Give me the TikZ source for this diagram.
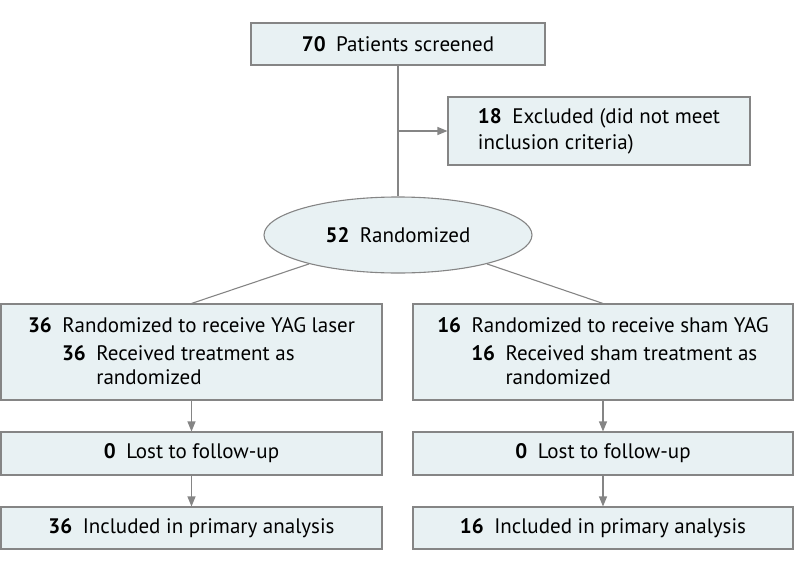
\documentclass[tikz,border=0pt]{standalone}
\usepackage{fontspec}
\setmainfont{PT Sans}
\usetikzlibrary{shapes.geometric,arrows.meta}
\definecolor{boxfill}{HTML}{E8F1F3}
\definecolor{boxline}{HTML}{858585}
\tikzset{
  txt/.style={font=\fontsize{21}{24}\selectfont},
  base/.style={draw=boxline, fill=boxfill, line width=1.1pt, inner sep=0pt, txt},
  box/.style={base, rectangle},
  oval/.style={base, ellipse},
  conn/.style={draw=boxline, line width=1.1pt},
  arr/.style={conn, -{Triangle[length=10pt,width=8pt]}},
}
\newcommand{\nb}[1]{\textbf{#1}\hspace{0.5em}}
\begin{document}
\begin{tikzpicture}[x=1pt,y=-1pt]
\useasboundingbox (0,0) rectangle (794,570);
\node[box, minimum width=294, minimum height=42] (T) at (398,44) {\nb{70}Patients screened};
\node[box, minimum width=302, minimum height=68, align=left, font=\fontsize{21}{26}\selectfont] (X) at (599,131) {\nb{18}Excluded (did not meet\\inclusion criteria)};
\node[oval, minimum width=268, minimum height=76] (E) at (398,235) {\nb{52}Randomized};
\node[box, minimum width=381, minimum height=96] (L1) at (191.5,352) {};
\node[box, minimum width=380, minimum height=96] (R1) at (603,352) {};
\node[txt, align=left, inner sep=0pt] (L1t) at ([yshift=1pt]L1.center) {\nb{36}Randomized to receive YAG laser\\[4pt]\hspace*{34pt}\nb{36}Received treatment as\\\hspace*{34pt}\phantom{\nb{36}}randomized};
\node[txt, align=left, inner sep=0pt] (R1t) at ([yshift=1pt]R1.center) {\nb{16}Randomized to receive sham YAG\\[4pt]\hspace*{34pt}\nb{16}Received sham treatment as\\\hspace*{34pt}\phantom{\nb{16}}randomized};
\node[box, minimum width=381, minimum height=43] (L2) at (191.5,453.5) {\nb{0}Lost to follow-up};
\node[box, minimum width=380, minimum height=43] (R2) at (603,453.5) {\nb{0}Lost to follow-up};
\node[box, minimum width=381, minimum height=42] (L3) at (191.5,528) {\nb{36}Included in primary analysis};
\node[box, minimum width=380, minimum height=42] (R3) at (603,528) {\nb{16}Included in primary analysis};
\draw[conn] (T.south) -- (E.north);
\draw[arr] (T.south |- X.west) -- (X.west);
\draw[conn] (E.198) -- (L1.north);
\draw[conn] (E.342) -- (R1.north);
\draw[arr] (L1.south) -- (L2.north);
\draw[arr] (L2.south) -- (L3.north);
\draw[arr] (R1.south) -- (R2.north);
\draw[arr] (R2.south) -- (R3.north);
\end{tikzpicture}
\end{document}
